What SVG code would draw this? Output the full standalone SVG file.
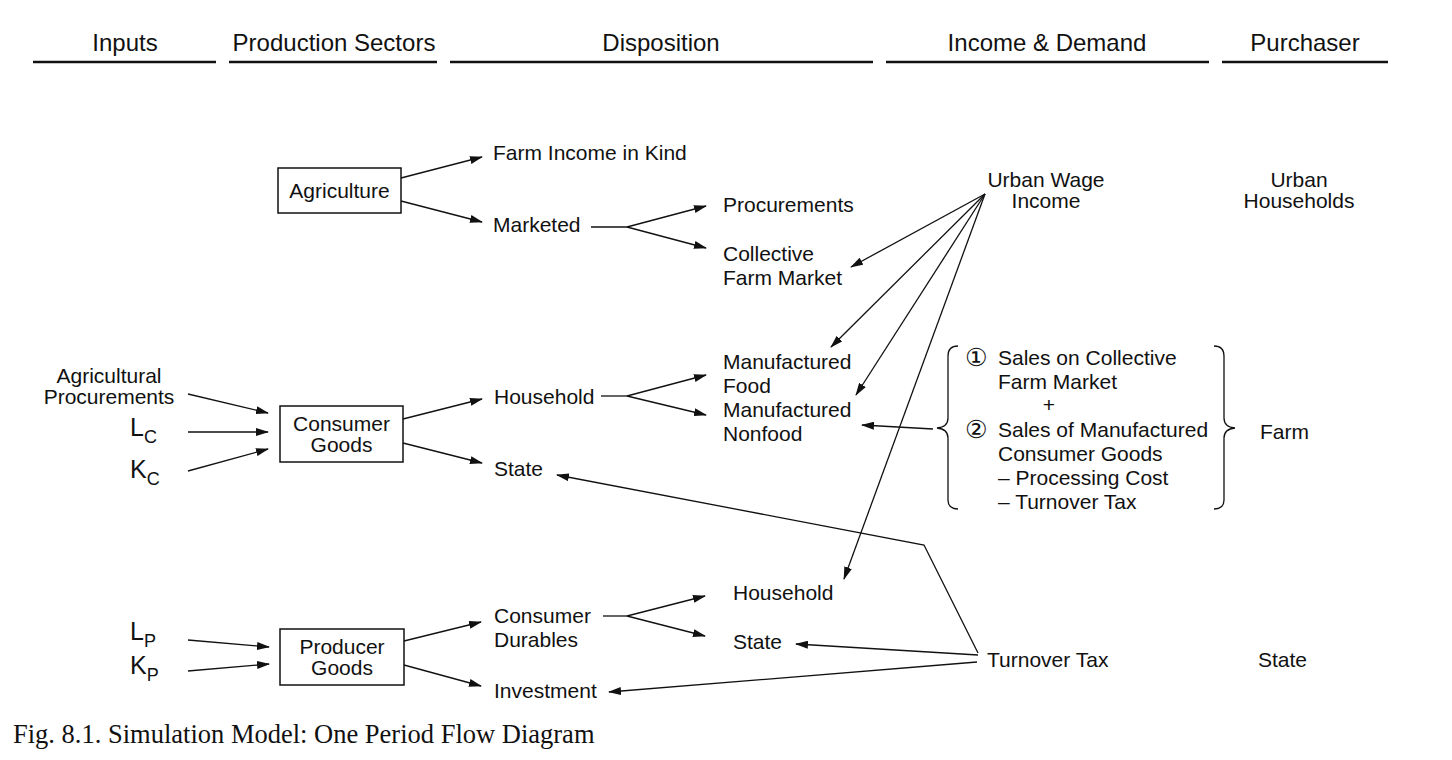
<svg xmlns="http://www.w3.org/2000/svg" width="1452" height="760" viewBox="0 0 1452 760">
<defs>
<style>
.t{font-family:"Liberation Sans",Arial,sans-serif;font-size:21px;fill:#111}
.h{font-family:"Liberation Sans",Arial,sans-serif;font-size:24px;fill:#111}
.v{font-family:"Liberation Sans",Arial,sans-serif;font-size:25px;fill:#111}
.cap{font-family:"Liberation Serif","Times New Roman",serif;font-size:26.5px;fill:#111}
.c{font-family:"DejaVu Sans",sans-serif;font-size:25px;fill:#111}
.m{text-anchor:middle}
.box{fill:#fff;stroke:#111;stroke-width:1.5}
.ln{fill:none;stroke:#111;stroke-width:1.3}
.ar{fill:none;stroke:#111;stroke-width:1.3;marker-end:url(#a)}
.ul{stroke:#111;stroke-width:2.6}
</style>
<marker id="a" markerUnits="userSpaceOnUse" markerWidth="13" markerHeight="8" refX="12" refY="4" orient="auto">
<path d="M0,0 L13,4 L0,8 z" fill="#111"/>
</marker>
</defs>
<rect width="1452" height="760" fill="#fff"/>

<g id="headers">
<text class="h m" x="125" y="51">Inputs</text>
<text class="h m" x="334" y="51">Production Sectors</text>
<text class="h m" x="661" y="51">Disposition</text>
<text class="h m" x="1047" y="51">Income &amp; Demand</text>
<text class="h m" x="1305" y="51">Purchaser</text>
<line class="ul" x1="33" y1="62" x2="216" y2="62"/>
<line class="ul" x1="229" y1="62" x2="437" y2="62"/>
<line class="ul" x1="450" y1="62" x2="873" y2="62"/>
<line class="ul" x1="886" y1="62" x2="1209" y2="62"/>
<line class="ul" x1="1222" y1="62" x2="1388" y2="62"/>
</g>

<g id="agriculture">
<rect class="box" x="278" y="168" width="123" height="45"/>
<text class="t m" x="339.5" y="198">Agriculture</text>
</g>
<g id="farm-income-in-kind"><text class="t" x="493" y="160">Farm Income in Kind</text></g>
<g id="marketed"><text class="t" x="493" y="232">Marketed</text></g>
<g id="procurements"><text class="t" x="723" y="212">Procurements</text></g>
<g id="collective-farm-market"><text class="t" x="723" y="261">Collective</text><text class="t" x="723" y="285">Farm Market</text></g>

<g id="urban-wage-income"><text class="t m" x="1046" y="187">Urban Wage</text><text class="t m" x="1046" y="208">Income</text></g>
<g id="urban-households"><text class="t m" x="1299" y="187">Urban</text><text class="t m" x="1299" y="208">Households</text></g>

<g id="agricultural-procurements"><text class="t m" x="109" y="383">Agricultural</text><text class="t m" x="109" y="404">Procurements</text></g>
<g id="lc"><text class="v" x="130" y="436">L<tspan font-size="18" dy="7">C</tspan></text></g>
<g id="kc"><text class="v" x="130" y="478">K<tspan font-size="18" dy="7">C</tspan></text></g>

<g id="consumer-goods">
<rect class="box" x="280" y="406" width="123" height="56"/>
<text class="t m" x="341.5" y="431">Consumer</text>
<text class="t m" x="341.5" y="452">Goods</text>
</g>
<g id="household-cg"><text class="t" x="494" y="404">Household</text></g>
<g id="state-cg"><text class="t" x="494" y="476">State</text></g>
<g id="manufactured-food"><text class="t" x="723" y="369">Manufactured</text><text class="t" x="723" y="393">Food</text></g>
<g id="manufactured-nonfood"><text class="t" x="723" y="417">Manufactured</text><text class="t" x="723" y="441">Nonfood</text></g>

<g id="farm-sales">
<path class="ln" d="M958,346 Q948,346 948,356 L948,418 Q948,427 937,428 Q948,429 948,438 L948,500 Q948,509 958,509"/>
<path class="ln" d="M1214,346 Q1224,346 1224,356 L1224,418 Q1224,427 1235,428 Q1224,429 1224,438 L1224,500 Q1224,509 1214,509"/>
<text class="c" x="965" y="366">①</text>
<text class="t" x="998" y="365">Sales on Collective</text>
<text class="t" x="998" y="389">Farm Market</text>
<text class="t m" x="1049" y="412">+</text>
<text class="c" x="965" y="438">②</text>
<text class="t" x="998" y="437">Sales of Manufactured</text>
<text class="t" x="998" y="461">Consumer Goods</text>
<text class="t" x="998" y="485">– Processing Cost</text>
<text class="t" x="998" y="509">– Turnover Tax</text>
</g>
<g id="farm"><text class="t" x="1260" y="439">Farm</text></g>

<g id="lp"><text class="v" x="130" y="640">L<tspan font-size="18" dy="7">P</tspan></text></g>
<g id="kp"><text class="v" x="130" y="674">K<tspan font-size="18" dy="7">P</tspan></text></g>
<g id="producer-goods">
<rect class="box" x="280" y="629" width="124" height="56"/>
<text class="t m" x="342" y="654">Producer</text>
<text class="t m" x="342" y="675">Goods</text>
</g>
<g id="consumer-durables"><text class="t" x="494" y="623">Consumer</text><text class="t" x="494" y="647">Durables</text></g>
<g id="investment"><text class="t" x="494" y="698">Investment</text></g>
<g id="household-pg"><text class="t" x="733" y="600">Household</text></g>
<g id="state-pg"><text class="t" x="733" y="649">State</text></g>
<g id="turnover-tax"><text class="t" x="987" y="667">Turnover Tax</text></g>
<g id="state-purchaser"><text class="t" x="1258" y="667">State</text></g>

<g id="connectors">
<line class="ar" x1="401" y1="178" x2="482" y2="157"/>
<line class="ar" x1="401" y1="201" x2="482" y2="222"/>
<polyline class="ln" points="591,227 627,227"/>
<line class="ar" x1="627" y1="227" x2="706" y2="206"/>
<line class="ar" x1="627" y1="227" x2="706" y2="248"/>

<line class="ar" x1="985" y1="194" x2="851" y2="267"/>
<line class="ar" x1="985" y1="194" x2="831" y2="347"/>
<line class="ar" x1="985" y1="194" x2="856" y2="395"/>
<line class="ar" x1="985" y1="194" x2="844" y2="579"/>

<line class="ar" x1="188" y1="394" x2="268" y2="413"/>
<line class="ar" x1="188" y1="432" x2="268" y2="432"/>
<line class="ar" x1="188" y1="471" x2="268" y2="449"/>
<line class="ar" x1="403" y1="419" x2="482" y2="399"/>
<line class="ar" x1="403" y1="443" x2="482" y2="463"/>
<polyline class="ln" points="601,396 627,396"/>
<line class="ar" x1="627" y1="396" x2="706" y2="375"/>
<line class="ar" x1="627" y1="396" x2="706" y2="415"/>
<line class="ar" x1="933" y1="429" x2="862" y2="425"/>

<polyline class="ar" points="978,653 924,545 557,475"/>
<line class="ar" x1="978" y1="655" x2="796" y2="644"/>
<line class="ar" x1="977" y1="662" x2="609" y2="692"/>

<line class="ar" x1="188" y1="640" x2="269" y2="647"/>
<line class="ar" x1="188" y1="671" x2="269" y2="664"/>
<line class="ar" x1="404" y1="641" x2="481" y2="622"/>
<line class="ar" x1="404" y1="665" x2="481" y2="686"/>
<polyline class="ln" points="603,616 627,616"/>
<line class="ar" x1="627" y1="616" x2="705" y2="596"/>
<line class="ar" x1="627" y1="616" x2="705" y2="636"/>
</g>

<g id="caption"><text class="cap" x="13" y="743">Fig. 8.1. Simulation Model: One Period Flow Diagram</text></g>
</svg>
